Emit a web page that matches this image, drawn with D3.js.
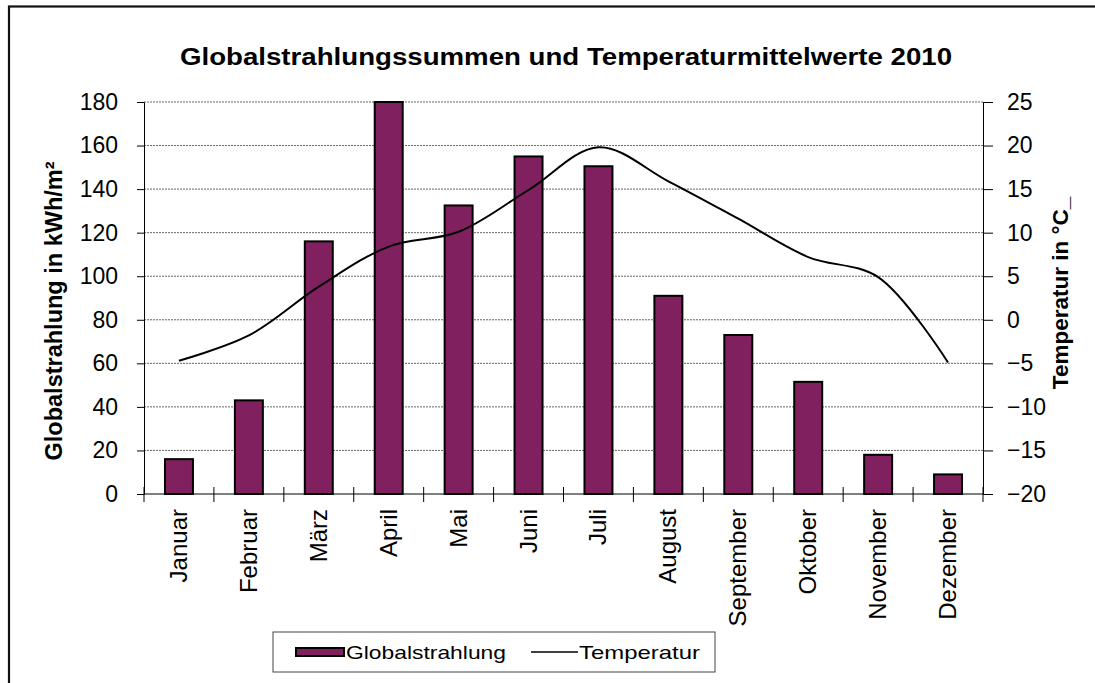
<!DOCTYPE html>
<html>
<head>
<meta charset="utf-8">
<script src="https://cdn.jsdelivr.net/npm/d3@7"></script>
<style>
  body { margin: 0; background: #fff; }
  text { font-family: "Liberation Sans", Arial, sans-serif; fill: #000; }
</style>
</head>
<body>
<div id="chart"></div>
<script>
// Monatswerte 2010
const months = ["Januar", "Februar", "März", "April", "Mai", "Juni", "Juli",
                "August", "September", "Oktober", "November", "Dezember"];
const globalstrahlung = [16, 43, 116, 180, 132.5, 155, 150.5, 91, 73, 51.5, 18, 9];
const temperatur = [-4.7, -1.8, 3.8, 8.4, 10.1, 14.9, 19.8, 15.9, 11.6, 7.2, 4.9, -4.9];
const leftTicks = [0, 20, 40, 60, 80, 100, 120, 140, 160, 180];
const rightTicks = [-20, -15, -10, -5, 0, 5, 10, 15, 20, 25];

const W = 1095, H = 683;
const margin = { top: 102, right: 112, bottom: 189, left: 144 };
const width = W - margin.left - margin.right;
const height = H - margin.top - margin.bottom;
const barColor = "#80205e";

const svg = d3.select("#chart").append("svg")
    .attr("width", W)
    .attr("height", H);

// outer frame (runs off the right and bottom edges)
svg.append("rect")
    .attr("x", 9).attr("y", 6.5)
    .attr("width", 1200).attr("height", 800)
    .attr("fill", "none")
    .attr("stroke", "#111")
    .attr("stroke-width", 2.2);

svg.append("text")
    .attr("x", 566).attr("y", 65)
    .attr("text-anchor", "middle")
    .attr("font-size", 23)
    .attr("font-weight", "bold")
    .attr("textLength", 772)
    .attr("lengthAdjust", "spacingAndGlyphs")
    .text("Globalstrahlungssummen  und  Temperaturmittelwerte  2010");

const g = svg.append("g")
    .attr("transform", `translate(${margin.left},${margin.top})`);

const x = d3.scaleBand().domain(months).range([0, width]).paddingInner(0.6).paddingOuter(0.3);
const xBand = d3.scaleBand().domain(months).range([0, width]);
const yL = d3.scaleLinear().domain([0, 180]).range([height, 0]);
const yR = d3.scaleLinear().domain([-20, 25]).range([height, 0]);

// gridlines
g.append("g")
    .selectAll("line")
    .data(leftTicks.filter(d => d > 0))
    .join("line")
    .attr("x1", 0).attr("x2", width)
    .attr("y1", d => yL(d)).attr("y2", d => yL(d))
    .attr("stroke", "#666")
    .attr("stroke-width", 1)
    .attr("stroke-dasharray", "2,1");

// bars
g.append("g")
    .selectAll("rect")
    .data(globalstrahlung)
    .join("rect")
    .attr("x", (d, i) => x(months[i]))
    .attr("y", d => yL(d))
    .attr("width", x.bandwidth())
    .attr("height", d => height - yL(d))
    .attr("fill", barColor)
    .attr("stroke", "#000")
    .attr("stroke-width", 2);

// temperature line
const line = d3.line()
    .x((d, i) => xBand(months[i]) + xBand.bandwidth() / 2)
    .y(d => yR(d))
    .curve(d3.curveCatmullRom.alpha(0.5));

g.append("path")
    .datum(temperatur)
    .attr("d", line)
    .attr("fill", "none")
    .attr("stroke", "#000")
    .attr("stroke-width", 2);

// left axis
const axisL = g.append("g")
    .call(d3.axisLeft(yL).tickValues(leftTicks).tickSize(7).tickPadding(19));
axisL.selectAll("text").attr("font-size", 23).attr("font-family", "Liberation Sans, Arial, sans-serif");

// right axis
const axisR = g.append("g")
    .attr("transform", `translate(${width},0)`)
    .call(d3.axisRight(yR).tickValues(rightTicks).tickSize(10).tickPadding(14));
axisR.selectAll("text").attr("font-size", 23).attr("font-family", "Liberation Sans, Arial, sans-serif");

// x axis with crossing ticks at band edges
const xAxis = g.append("g").attr("transform", `translate(0,${height})`);
xAxis.append("line")
    .attr("x1", 0).attr("x2", width)
    .attr("stroke", "#000");
xAxis.selectAll("line.tick")
    .data(d3.range(months.length + 1))
    .join("line")
    .attr("class", "tick")
    .attr("x1", i => i * xBand.step()).attr("x2", i => i * xBand.step())
    .attr("y1", -7).attr("y2", 8)
    .attr("stroke", "#000");
xAxis.selectAll("text")
    .data(months)
    .join("text")
    .attr("transform", d => `translate(${xBand(d) + xBand.bandwidth() / 2 + 8},15) rotate(-90)`)
    .attr("text-anchor", "end")
    .attr("font-size", 24)
    .text(d => d);

[axisL, axisR].forEach(a => {
    a.select(".domain").attr("stroke", "#000");
    a.selectAll(".tick line").attr("stroke", "#000");
});

// axis titles
svg.append("text")
    .attr("transform", "translate(62,311) rotate(-90)")
    .attr("text-anchor", "middle")
    .attr("font-size", 23.5)
    .attr("font-weight", "bold")
    .text("Globalstrahlung in kWh/m²");

svg.append("text")
    .attr("transform", "translate(1068,293) rotate(-90)")
    .attr("text-anchor", "middle")
    .attr("font-size", 22.5)
    .attr("font-weight", "bold")
    .text("Temperatur in °C_");

// legend
const legend = svg.append("g");
legend.append("rect")
    .attr("x", 273).attr("y", 632)
    .attr("width", 442).attr("height", 40)
    .attr("fill", "#fff")
    .attr("stroke", "#444")
    .attr("stroke-width", 1);
legend.append("rect")
    .attr("x", 296).attr("y", 648)
    .attr("width", 48).attr("height", 8)
    .attr("fill", barColor)
    .attr("stroke", "#000")
    .attr("stroke-width", 2);
legend.append("text")
    .attr("x", 346).attr("y", 659)
    .attr("font-size", 19)
    .attr("textLength", 160)
    .attr("lengthAdjust", "spacingAndGlyphs")
    .text("Globalstrahlung");
legend.append("line")
    .attr("x1", 531).attr("x2", 578)
    .attr("y1", 652).attr("y2", 652)
    .attr("stroke", "#000")
    .attr("stroke-width", 1.5);
legend.append("text")
    .attr("x", 579).attr("y", 659)
    .attr("font-size", 19)
    .attr("textLength", 121)
    .attr("lengthAdjust", "spacingAndGlyphs")
    .text("Temperatur");
</script>
</body>
</html>
